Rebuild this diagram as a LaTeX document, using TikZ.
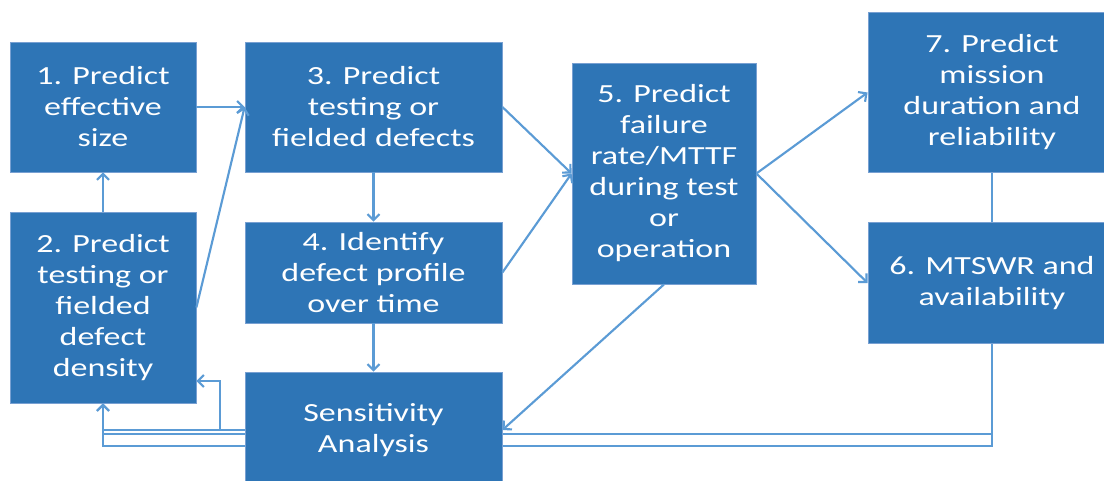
\documentclass[tikz,border=0pt]{standalone}
\usepackage{fontspec}
\setmainfont{Carlito}[FakeStretch=1.3]
\usetikzlibrary{arrows.meta,backgrounds}
\definecolor{boxblue}{RGB}{46,117,182}
\definecolor{boxedge}{RGB}{120,160,210}
\definecolor{linkblue}{RGB}{91,155,213}

\begin{document}
\begin{tikzpicture}[x=0.75pt,y=-0.75pt,
    box/.style={rectangle,fill=boxblue,draw=boxedge,line width=0.6pt,
      text=white,align=center,inner sep=0pt,
      font=\fontsize{19.6}{23.25}\selectfont},
    link/.style={linkblue,line width=1.6pt},
    arr/.style={link,-{Straight Barb[length=4.5pt,width=9pt]}}]
  \useasboundingbox (0,0) rectangle (1104,481);

  \node[box,minimum width=139.5pt,minimum height=97.5pt] (1) at (103,107)
    {1. Predict\\effective\\size};
  \node[box,minimum width=139.5pt,minimum height=143.25pt] (2) at (103,307.5)
    {2. Predict\\testing or\\fielded\\defect\\density};
  \node[box,minimum width=192.75pt,minimum height=97.5pt] (3) at (373.5,107)
    {3. Predict\\testing or\\fielded defects};
  \node[box,minimum width=192.75pt,minimum height=75.75pt] (4) at (373.5,272.5)
    {4. Identify\\defect profile\\over time};
  \node[box,minimum width=192.75pt,minimum height=87pt] (s) at (373.5,430)
    {Sensitivity\\Analysis};
  \node[box,minimum width=138pt,minimum height=165.75pt] (5) at (664,173.5)
    {5. Predict\\failure\\rate/MTTF\\during test\\or\\operation};
  \node[box,minimum width=186pt,minimum height=120pt] (7) at (992,92.5)
    {7. Predict\\mission\\duration and\\reliability};
  \node[box,minimum width=186pt,minimum height=90.75pt] (6) at (992,283)
    {6. MTSWR and\\availability};

  \coordinate (k1) at (220,381);
  \coordinate (f1) at (103,434);
  \coordinate (f2) at (103,446);

  \path[arr] (1) edge (3.west)
    (2.east) edge (3.west)
    (2) edge (1)
    (3) edge (4)
    (4) edge (s)
    (3.east) edge (5.west)
    (4.east) edge (5.west)
    (5.east) edge (7.west)
    (5.east) edge (6.west)
    (5.south) edge (s.east);
  \draw[link] (7) -- (6);

  \draw[arr] (s.west) -| (k1) -- (k1 -| 2.east);
  \draw[arr] (s.west) -| (2.south);

  % return line from 6 runs behind the analysis box
  \begin{pgfonlayer}{background}
    \draw[link] (6.south) |- (f1);
    \draw[arr] (6.south) |- (f2) -- (2.south);
  \end{pgfonlayer}
\end{tikzpicture}
\end{document}
